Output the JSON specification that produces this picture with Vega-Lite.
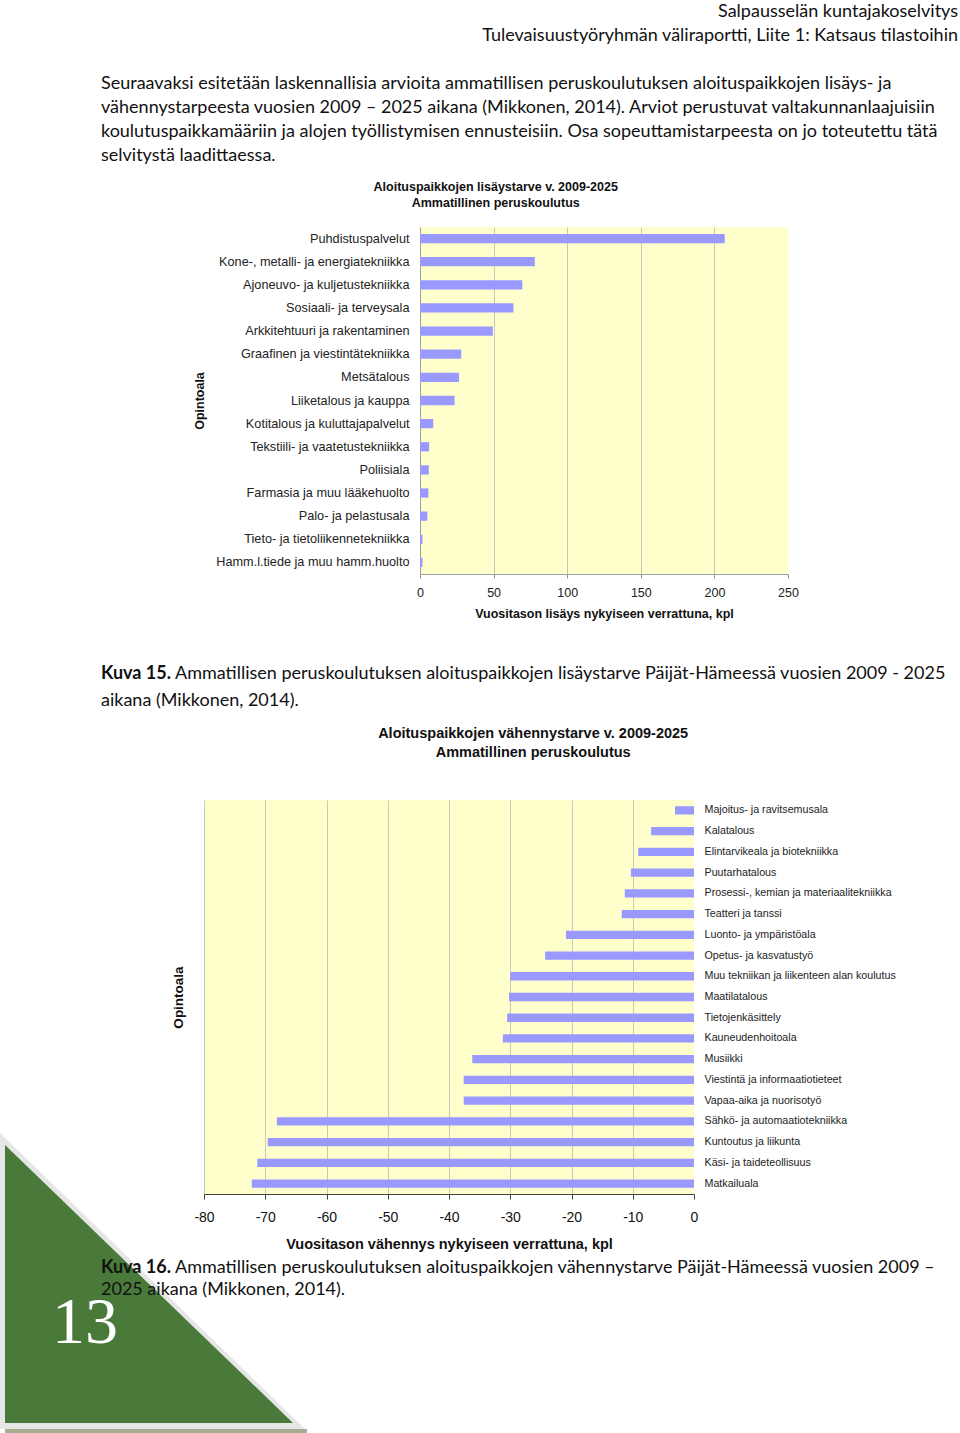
{
  "$schema": "https://vega.github.io/schema/vega-lite/v6.json",
  "padding": 0,
  "background": "white",
  "config": {"view": {"stroke": null}, "font": "Liberation Sans"},
  "spacing": 0,
  "bounds": "full",
  "vconcat": [
    {
      "columns": 3,
      "spacing": 0,
      "bounds": "flush",
      "align": "each",
      "concat": [
        {"width": 101, "height": 227, "data": {"values": []}, "mark": "point"},
        {
          "width": 319, "height": 168,
          "data": {"values": [
            {"line": 3, "text": "Seuraavaksi esitetään laskennallisia arvioita ammatillisen peruskoulutuksen aloituspaikkojen lisäys- ja"},
            {"line": 4, "text": "vähennystarpeesta vuosien 2009 – 2025 aikana (Mikkonen, 2014). Arviot perustuvat valtakunnanlaajuisiin"},
            {"line": 5, "text": "koulutuspaikkamääriin ja alojen työllistymisen ennusteisiin. Osa sopeuttamistarpeesta on jo toteutettu tätä"},
            {"line": 6, "text": "selvitystä laadittaessa."}
          ]},
          "mark": {"type": "text", "align": "left", "font": "Lato", "fontSize": 18, "color": "#111"},
          "encoding": {
            "y": {"field": "line", "type": "ordinal", "scale": {"domain": [0, 1, 2, 3, 4, 5, 6], "paddingInner": 0, "paddingOuter": 0}, "axis": null},
            "x": {"value": 0},
            "text": {"field": "text"}
          }
        },
        {
          "width": 538, "height": 168,
          "data": {"values": [
            {"line": 0, "text": "Salpausselän kuntajakoselvitys"},
            {"line": 1, "text": "Tulevaisuustyöryhmän väliraportti, Liite 1: Katsaus tilastoihin"}
          ]},
          "mark": {"type": "text", "align": "right", "font": "Lato", "fontSize": 18, "color": "#111"},
          "encoding": {
            "y": {"field": "line", "type": "ordinal", "scale": {"domain": [0, 1, 2, 3, 4, 5, 6], "paddingInner": 0, "paddingOuter": 0}, "axis": null},
            "x": {"value": "width"},
            "text": {"field": "text"}
          }
        },
        {"width": 101, "height": 433, "data": {"values": []}, "mark": "point"},
        {"width": 319, "height": 1, "data": {"values": []}, "mark": "point"},
        {
          "width": 368, "height": 347,
          "view": {"fill": "#FFFFCC", "stroke": null},
          "title": {"text": ["Aloituspaikkojen lisäystarve v. 2009-2025", "Ammatillinen peruskoulutus"], "font": "Liberation Sans", "fontSize": 12.5, "fontWeight": "bold", "anchor": "middle", "frame": "bounds", "offset": 18, "lineHeight": 16, "color": "#111"},
          "data": {"values": [
            {"ala": "Puhdistuspalvelut", "kpl": 207},
            {"ala": "Kone-, metalli- ja energiatekniikka", "kpl": 78},
            {"ala": "Ajoneuvo- ja kuljetustekniikka", "kpl": 69.5},
            {"ala": "Sosiaali- ja terveysala", "kpl": 63.5},
            {"ala": "Arkkitehtuuri ja rakentaminen", "kpl": 49.5},
            {"ala": "Graafinen ja viestintätekniikka", "kpl": 28},
            {"ala": "Metsätalous", "kpl": 26.5},
            {"ala": "Liiketalous ja kauppa", "kpl": 23.5},
            {"ala": "Kotitalous ja kuluttajapalvelut", "kpl": 9},
            {"ala": "Tekstiili- ja vaatetustekniikka", "kpl": 6.2},
            {"ala": "Poliisiala", "kpl": 6},
            {"ala": "Farmasia ja muu lääkehuolto", "kpl": 5.7},
            {"ala": "Palo- ja pelastusala", "kpl": 5},
            {"ala": "Tieto- ja tietoliikennetekniikka", "kpl": 1.7},
            {"ala": "Hamm.l.tiede ja muu hamm.huolto", "kpl": 1.7}
          ]},
          "mark": {"type": "bar", "color": "#9999FF"},
          "encoding": {
            "y": {
              "field": "ala", "type": "nominal", "sort": null,
              "scale": {"paddingInner": 0.6, "paddingOuter": 0.3},
              "axis": {"title": "Opintoala", "labelFont": "Liberation Sans", "labelFontSize": 12.7, "labelLimit": 400, "labelColor": "#222", "ticks": false, "labelPadding": 11, "domainColor": "#a0a0a0", "titleFont": "Liberation Sans", "titleFontSize": 12.5, "titleFontWeight": "bold", "titlePadding": 14, "titleColor": "#111"}
            },
            "x": {
              "field": "kpl", "type": "quantitative",
              "scale": {"domain": [0, 250], "nice": false},
              "axis": {"values": [0, 50, 100, 150, 200, 250], "labelFlush": false, "title": "Vuositason lisäys nykyiseen verrattuna, kpl", "grid": true, "gridColor": "#c8c8b8", "gridOpacity": {"condition": {"test": "datum.value === 0 || datum.value === 250", "value": 0}, "value": 1}, "domainColor": "#a0a0a0", "tickColor": "#909090", "tickSize": 4, "labelPadding": 8, "labelFont": "Liberation Sans", "labelFontSize": 12.5, "labelColor": "#222", "titleFont": "Liberation Sans", "titleFontSize": 12.5, "titleFontWeight": "bold", "titlePadding": 9, "titleColor": "#111"}
            }
          }
        },
        {"width": 101, "height": 54, "data": {"values": []}, "mark": "point"},
        {
          "width": 319, "height": 54,
          "data": {"values": [
            {"line": 0, "part": "pre", "text": "Kuva 15."},
            {"line": 0, "part": "rest", "text": "Ammatillisen peruskoulutuksen aloituspaikkojen lisäystarve Päijät-Hämeessä vuosien 2009 - 2025"},
            {"line": 1, "part": "cont", "text": "aikana (Mikkonen, 2014)."}
          ]},
          "encoding": {
            "y": {"field": "line", "type": "ordinal", "scale": {"domain": [0, 1], "paddingInner": 0, "paddingOuter": 0}, "axis": null},
            "x": {"value": 0},
            "text": {"field": "text"}
          },
          "layer": [
            {"transform": [{"filter": "datum.part === 'pre'"}], "mark": {"type": "text", "align": "left", "font": "Lato", "fontSize": 18, "fontWeight": "bold", "color": "#111"}},
            {"transform": [{"filter": "datum.part === 'rest'"}], "mark": {"type": "text", "align": "left", "font": "Lato", "fontSize": 18, "color": "#111", "dx": 74}},
            {"transform": [{"filter": "datum.part === 'cont'"}], "mark": {"type": "text", "align": "left", "font": "Lato", "fontSize": 18, "color": "#111"}}
          ]
        },
        {"width": 538, "height": 1, "data": {"values": []}, "mark": "point"}
      ]
    },
    {
      "columns": 3,
      "spacing": 0,
      "bounds": "flush",
      "align": "each",
      "concat": [
        {"width": 101, "height": 86, "data": {"values": []}, "mark": "point"},
        {"width": 103, "height": 1, "data": {"values": []}, "mark": "point"},
        {"width": 490, "height": 1, "data": {"values": []}, "mark": "point"},
        {"width": 101, "height": 457, "data": {"values": []}, "mark": "point"},
        {"width": 103, "height": 1, "data": {"values": []}, "mark": "point"},
        {
          "width": 490, "height": 394,
          "view": {"fill": "#FFFFCC", "stroke": null},
          "title": {"text": ["Aloituspaikkojen vähennystarve v. 2009-2025", "Ammatillinen peruskoulutus"], "font": "Liberation Sans", "fontSize": 14.5, "fontWeight": "bold", "anchor": "middle", "frame": "bounds", "offset": 40, "lineHeight": 19, "color": "#111"},
          "data": {"values": [
            {"ala": "Majoitus- ja ravitsemusala", "kpl": -3.1},
            {"ala": "Kalatalous", "kpl": -7.0},
            {"ala": "Elintarvikeala ja biotekniikka", "kpl": -9.1},
            {"ala": "Puutarhatalous", "kpl": -10.3},
            {"ala": "Prosessi-, kemian ja materiaalitekniikka", "kpl": -11.3},
            {"ala": "Teatteri ja tanssi", "kpl": -11.8},
            {"ala": "Luonto- ja ympäristöala", "kpl": -20.9},
            {"ala": "Opetus- ja kasvatustyö", "kpl": -24.3},
            {"ala": "Muu tekniikan ja liikenteen alan koulutus", "kpl": -30.0},
            {"ala": "Maatilatalous", "kpl": -30.2},
            {"ala": "Tietojenkäsittely", "kpl": -30.5},
            {"ala": "Kauneudenhoitoala", "kpl": -31.2},
            {"ala": "Musiikki", "kpl": -36.2},
            {"ala": "Viestintä ja informaatiotieteet", "kpl": -37.6},
            {"ala": "Vapaa-aika ja nuorisotyö", "kpl": -37.6},
            {"ala": "Sähkö- ja automaatiotekniikka", "kpl": -68.1},
            {"ala": "Kuntoutus ja liikunta", "kpl": -69.6},
            {"ala": "Käsi- ja taideteollisuus", "kpl": -71.3},
            {"ala": "Matkailuala", "kpl": -72.2}
          ]},
          "resolve": {"axis": {"y": "independent"}},
          "layer": [
            {
              "mark": {"type": "bar", "color": "#9999FF"},
              "encoding": {
                "y": {
                  "field": "ala", "type": "nominal", "sort": null,
                  "scale": {"paddingInner": 0.6, "paddingOuter": 0.3},
                  "axis": {"orient": "right", "title": null, "labelFont": "Liberation Sans", "labelFontSize": 10.7, "labelLimit": 400, "labelColor": "#222", "ticks": false, "domain": false, "labelPadding": 10}
                },
                "x": {
                  "field": "kpl", "type": "quantitative",
                  "scale": {"domain": [-80, 0], "nice": false},
                  "axis": {"values": [-80, -70, -60, -50, -40, -30, -20, -10, 0], "labelFlush": false, "labelExpr": "'' + datum.value", "title": "Vuositason vähennys nykyiseen verrattuna, kpl", "grid": true, "gridColor": "#c8c8b8", "gridOpacity": {"condition": {"test": "datum.value === 0", "value": 0}, "value": 1}, "domainColor": "#404040", "tickColor": "#404040", "tickSize": 5, "labelPadding": 11, "labelFont": "Liberation Sans", "labelFontSize": 14, "labelColor": "#111", "titleFont": "Liberation Sans", "titleFontSize": 14.5, "titleFontWeight": "bold", "titlePadding": 13, "titleColor": "#111"}
                }
              }
            },
            {
              "mark": {"type": "bar", "opacity": 0},
              "encoding": {
                "y": {
                  "field": "ala", "type": "nominal", "sort": null,
                  "axis": {"orient": "left", "labels": false, "ticks": false, "domain": false, "title": "Opintoala", "titleFont": "Liberation Sans", "titleFontSize": 13.5, "titleFontWeight": "bold", "titleColor": "#111", "titlePadding": 19}
                }
              }
            }
          ]
        },
        {
          "width": 101, "height": 44,
          "data": {"values": [{"page": "13"}]},
          "layer": [
            {"mark": {"type": "point", "filled": true, "opacity": 1, "color": "#e6e6e6", "strokeWidth": 0, "size": 40000, "shape": "M-0.505,-1.46L-0.505,1.5L2.545,1.5Z"}, "encoding": {}},
            {"mark": {"type": "point", "filled": true, "opacity": 1, "color": "#a9aa8f", "strokeWidth": 0, "size": 40000, "shape": "M-0.455,1.5L2.565,1.5L2.565,1.54L-0.455,1.54Z"}, "encoding": {}},
            {"mark": {"type": "point", "filled": true, "opacity": 1, "color": "#4a7a3a", "strokeWidth": 0, "size": 40000, "shape": "M-0.455,-1.34L-0.455,1.44L2.425,1.44Z"}, "encoding": {}},
            {"mark": {"type": "text", "font": "Liberation Serif", "fontSize": 66, "color": "white", "dx": 34.5, "dy": 44}, "encoding": {"text": {"field": "page"}}}
          ]
        },
        {
          "width": 103, "height": 44,
          "data": {"values": [
            {"line": 0, "part": "pre", "text": "Kuva 16."},
            {"line": 0, "part": "rest", "text": "Ammatillisen peruskoulutuksen aloituspaikkojen vähennystarve Päijät-Hämeessä vuosien 2009 –"},
            {"line": 1, "part": "cont", "text": "2025 aikana (Mikkonen, 2014)."}
          ]},
          "encoding": {
            "y": {"field": "line", "type": "ordinal", "scale": {"domain": [0, 1], "paddingInner": 0, "paddingOuter": 0}, "axis": null},
            "x": {"value": 0},
            "text": {"field": "text"}
          },
          "layer": [
            {"transform": [{"filter": "datum.part === 'pre'"}], "mark": {"type": "text", "align": "left", "font": "Lato", "fontSize": 18, "fontWeight": "bold", "color": "#111"}},
            {"transform": [{"filter": "datum.part === 'rest'"}], "mark": {"type": "text", "align": "left", "font": "Lato", "fontSize": 18, "color": "#111", "dx": 74}},
            {"transform": [{"filter": "datum.part === 'cont'"}], "mark": {"type": "text", "align": "left", "font": "Lato", "fontSize": 18, "color": "#111"}}
          ]
        },
        {"width": 490, "height": 1, "data": {"values": []}, "mark": "point"}
      ]
    }
  ]
}
